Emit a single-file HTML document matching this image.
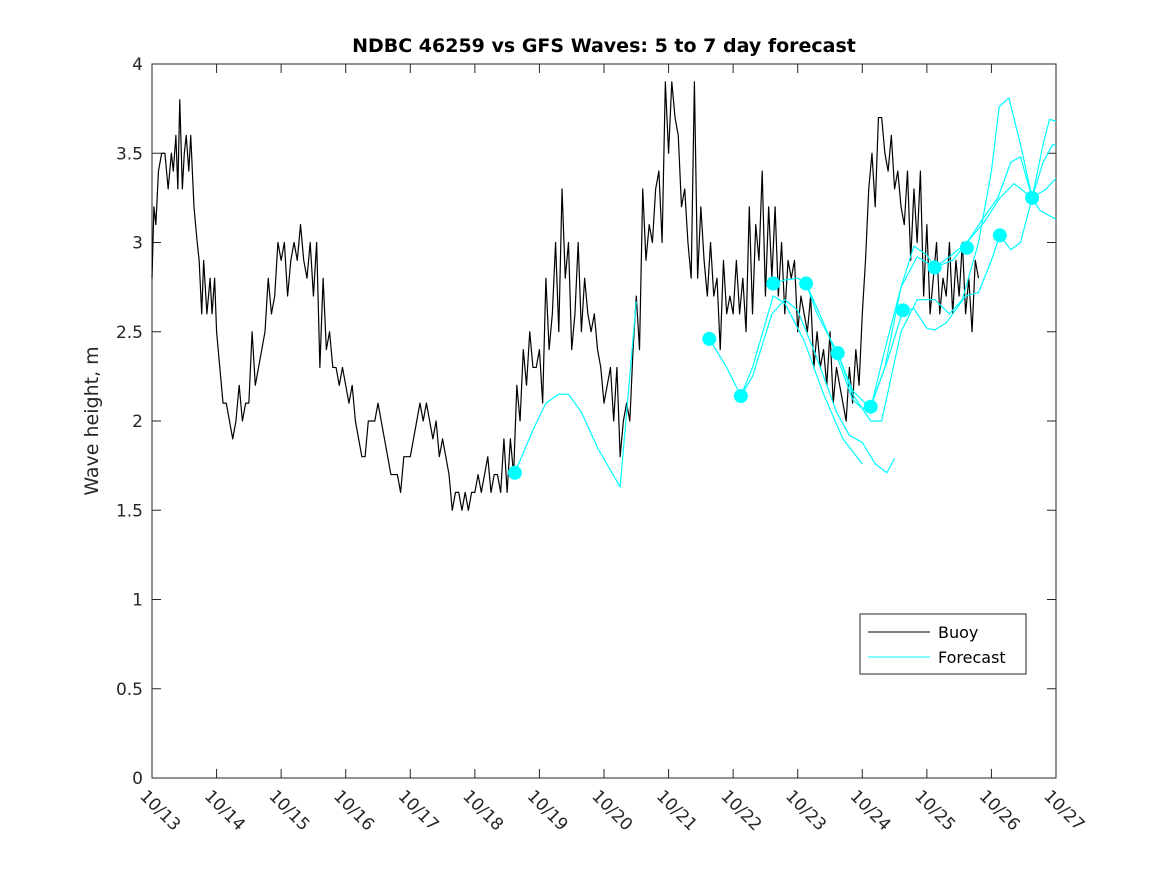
<!DOCTYPE html>
<html><head><meta charset="utf-8"><style>
body{margin:0;background:#fff;}
svg{font-family:"DejaVu Sans","Liberation Sans",sans-serif;}
</style></head><body>
<svg id="chart" width="1167" height="875" viewBox="0 0 1167 875" xmlns="http://www.w3.org/2000/svg">
<rect width="1167" height="875" fill="#fff"/>
<text x="604" y="52" text-anchor="middle" font-size="19" font-weight="bold" fill="#000">NDBC 46259 vs GFS Waves: 5 to 7 day forecast</text>
<text transform="translate(98,421) rotate(-90)" text-anchor="middle" font-size="19" fill="#262626">Wave height, m</text>
<g id="axes"></g>
<g id="series"></g>
<g>
<rect x="860" y="614" width="166" height="60" fill="#fff" stroke="#262626" stroke-width="1"/>
<line x1="868" y1="632" x2="930" y2="632" stroke="#000" stroke-width="1"/>
<text x="938" y="638" font-size="16" fill="#000">Buoy</text>
<line x1="868" y1="657" x2="930" y2="657" stroke="#00ffff" stroke-width="1"/>
<text x="938" y="663" font-size="16" fill="#000">Forecast</text>
</g>
</svg>
<script>
const xTickLabels=["10/13","10/14","10/15","10/16","10/17","10/18","10/19","10/20","10/21","10/22","10/23","10/24","10/25","10/26","10/27"];
const yTicks=[0,0.5,1,1.5,2,2.5,3,3.5,4];
const yTickLabels=["0","0.5","1","1.5","2","2.5","3","3.5","4"];
const buoyT=[13.0,13.03,13.06,13.1,13.15,13.2,13.25,13.3,13.33,13.37,13.4,13.43,13.47,13.5,13.53,13.57,13.6,13.65,13.7,13.73,13.77,13.8,13.85,13.9,13.93,13.97,14.0,14.05,14.1,14.15,14.2,14.25,14.3,14.35,14.4,14.45,14.5,14.55,14.6,14.65,14.7,14.75,14.8,14.85,14.9,14.95,15.0,15.05,15.1,15.15,15.2,15.25,15.3,15.35,15.4,15.45,15.5,15.55,15.6,15.65,15.7,15.75,15.8,15.85,15.9,15.95,16.0,16.05,16.1,16.15,16.2,16.25,16.3,16.35,16.4,16.45,16.5,16.55,16.6,16.65,16.7,16.75,16.8,16.85,16.9,16.95,17.0,17.05,17.1,17.15,17.2,17.25,17.3,17.35,17.4,17.45,17.5,17.55,17.6,17.65,17.7,17.75,17.8,17.85,17.9,17.95,18.0,18.05,18.1,18.15,18.2,18.25,18.3,18.35,18.4,18.45,18.5,18.55,18.6,18.65,18.7,18.75,18.8,18.85,18.9,18.95,19.0,19.05,19.1,19.15,19.2,19.25,19.3,19.35,19.4,19.45,19.5,19.55,19.6,19.65,19.7,19.75,19.8,19.85,19.9,19.95,20.0,20.05,20.1,20.15,20.2,20.25,20.3,20.35,20.4,20.45,20.5,20.55,20.6,20.65,20.7,20.75,20.8,20.85,20.9,20.95,21.0,21.05,21.1,21.15,21.2,21.25,21.3,21.35,21.4,21.45,21.5,21.55,21.6,21.65,21.7,21.75,21.8,21.85,21.9,21.95,22.0,22.05,22.1,22.15,22.2,22.25,22.3,22.35,22.4,22.45,22.5,22.55,22.6,22.65,22.7,22.75,22.8,22.85,22.9,22.95,23.0,23.05,23.1,23.15,23.2,23.25,23.3,23.35,23.4,23.45,23.5,23.55,23.6,23.65,23.7,23.75,23.8,23.85,23.9,23.95,24.0,24.05,24.1,24.15,24.2,24.25,24.3,24.35,24.4,24.45,24.5,24.55,24.6,24.65,24.7,24.75,24.8,24.85,24.9,24.95,25.0,25.05,25.1,25.15,25.2,25.25,25.3,25.35,25.4,25.45,25.5,25.55,25.6,25.65,25.7,25.75,25.8,25.85,25.9,25.95,26.0,26.05,26.1,26.15,26.2,26.25,26.3,26.33];
const buoyV=[2.8,3.2,3.1,3.4,3.5,3.5,3.3,3.5,3.4,3.6,3.3,3.8,3.3,3.5,3.6,3.4,3.6,3.2,3.0,2.9,2.6,2.9,2.6,2.8,2.6,2.8,2.5,2.3,2.1,2.1,2.0,1.9,2.0,2.2,2.0,2.1,2.1,2.5,2.2,2.3,2.4,2.5,2.8,2.6,2.7,3.0,2.9,3.0,2.7,2.9,3.0,2.9,3.1,2.9,2.8,3.0,2.7,3.0,2.3,2.8,2.4,2.5,2.3,2.3,2.2,2.3,2.2,2.1,2.2,2.0,1.9,1.8,1.8,2.0,2.0,2.0,2.1,2.0,1.9,1.8,1.7,1.7,1.7,1.6,1.8,1.8,1.8,1.9,2.0,2.1,2.0,2.1,2.0,1.9,2.0,1.8,1.9,1.8,1.7,1.5,1.6,1.6,1.5,1.6,1.5,1.6,1.6,1.7,1.6,1.7,1.8,1.6,1.7,1.7,1.6,1.9,1.6,1.9,1.7,2.2,2.0,2.4,2.2,2.5,2.3,2.3,2.4,2.1,2.8,2.4,2.6,3.0,2.5,3.3,2.8,3.0,2.4,2.6,3.0,2.5,2.8,2.6,2.5,2.6,2.4,2.3,2.1,2.2,2.3,2.0,2.3,1.8,2.0,2.1,2.0,2.4,2.7,2.4,3.3,2.9,3.1,3.0,3.3,3.4,3.0,3.9,3.5,3.9,3.7,3.6,3.2,3.3,3.0,2.8,3.9,2.8,3.2,2.9,2.7,3.0,2.7,2.8,2.4,2.9,2.6,2.7,2.6,2.9,2.6,2.8,2.5,3.2,2.6,3.1,2.9,3.4,2.7,3.2,2.8,3.2,2.7,3.0,2.6,2.9,2.8,2.9,2.5,2.7,2.6,2.5,2.7,2.3,2.5,2.3,2.4,2.2,2.5,2.1,2.3,2.2,2.1,2.0,2.3,2.1,2.4,2.2,2.6,2.9,3.3,3.5,3.2,3.7,3.7,3.5,3.4,3.6,3.3,3.4,3.2,3.1,3.4,2.9,3.3,3.0,3.4,2.7,3.1,2.6,2.8,3.0,2.6,2.8,2.7,3.0,2.6,2.9,2.7,3.0,2.6,2.8,2.5,2.9,2.8];
const fcA_t=[18.62,18.9,19.1,19.3,19.45,19.65,19.9,20.25,20.5];
const fcA_v=[1.71,1.95,2.1,2.15,2.15,2.05,1.85,1.63,2.67];
const fcB_t=[21.63,21.9,22.12,22.3,22.6,22.8,23.0,23.3,23.6,23.8,24.0,24.2,24.38,24.5];
const fcB_v=[2.46,2.3,2.14,2.25,2.6,2.68,2.62,2.35,2.05,1.92,1.88,1.76,1.71,1.79];
const fcC_t=[22.12,22.3,22.62,22.8,23.1,23.4,23.7,24.0];
const fcC_v=[2.14,2.3,2.7,2.66,2.45,2.15,1.9,1.76];
const fcD_t=[22.62,22.8,23.0,23.13,23.4,23.62,23.85,24.0,24.13,24.35,24.6,24.85,25.12,25.4,25.62,25.9,26.13,26.35,26.63,26.75,27.0];
const fcD_v=[2.77,2.79,2.8,2.77,2.55,2.35,2.12,2.07,2.08,2.3,2.75,2.92,2.86,2.9,3.0,3.12,3.25,3.33,3.25,3.18,3.13];
const fcE_t=[23.13,23.3,23.62,23.85,24.13,24.35,24.6,24.8,25.0,25.12,25.35,25.62,25.9,26.1,26.3,26.45,26.63,26.85,27.0];
const fcE_v=[2.77,2.6,2.38,2.17,2.07,2.4,2.75,2.98,2.93,2.86,2.92,3.0,3.15,3.25,3.45,3.48,3.25,3.3,3.36];
const fcF_t=[23.62,23.85,24.13,24.3,24.6,24.85,25.12,25.35,25.55,25.8,26.0,26.12,26.27,26.45,26.63,26.8,26.95,27.0];
const fcF_v=[2.38,2.15,2.0,2.0,2.5,2.68,2.68,2.6,2.68,3.0,3.4,3.76,3.81,3.55,3.25,3.45,3.55,3.54];
const fcG_t=[24.13,24.4,24.63,24.8,25.0,25.12,25.3,25.6,25.8,26.0,26.13,26.3,26.45,26.63,26.8,26.9,27.0];
const fcG_v=[2.08,2.35,2.62,2.63,2.52,2.51,2.55,2.7,2.72,2.9,3.04,2.96,3.0,3.25,3.55,3.69,3.68];
const markT=[18.62,21.63,22.12,22.62,23.13,23.62,24.13,24.63,25.12,25.62,26.13,26.63];
const markV=[1.71,2.46,2.14,2.77,2.77,2.38,2.08,2.62,2.86,2.97,3.04,3.25];

const X0=152,X1=1056,Y0=778,Y1=64;
const xs=d=>X0+(d-13)*(X1-X0)/14;
const ys=v=>Y0-v*(Y0-Y1)/4;
const NS="http://www.w3.org/2000/svg";
const axes=document.getElementById('axes'),ser=document.getElementById('series');
function mk(tag,attrs,parent){const e=document.createElementNS(NS,tag);for(const k in attrs)e.setAttribute(k,attrs[k]);parent.appendChild(e);return e;}
const frame=mk('rect',{x:X0,y:Y1,width:X1-X0,height:Y0-Y1,fill:'none',stroke:'#262626','stroke-width':1},axes);


xTickLabels.forEach((lab,i)=>{
  const x=xs(13+i);
  const t1=mk('line',{x1:x,y1:Y0,x2:x,y2:Y0-9,stroke:'#262626'},axes);
  
  
  const t2=mk('line',{x1:x,y1:Y1,x2:x,y2:Y1+9,stroke:'#262626'},axes);
  
  
  const tx=mk('text',{transform:`translate(${x-13},${Y0+19}) rotate(45)`,'font-size':17,fill:'#262626'},axes);
  tx.textContent=lab;
  
  
});
yTicks.forEach((v,i)=>{
  const y=ys(v);
  const t1=mk('line',{x1:X0,y1:y,x2:X0+9,y2:y,stroke:'#262626'},axes);
  
  
  const t2=mk('line',{x1:X1,y1:y,x2:X1-9,y2:y,stroke:'#262626'},axes);
  
  
  const tx=mk('text',{x:X0-9,y:y+6,'text-anchor':'end','font-size':17,fill:'#262626'},axes);
  tx.textContent=yTickLabels[i];
  
  
});
function line(T,V,color,name){
  const p=mk('polyline',{points:T.map((t,i)=>xs(t)+','+ys(V[i])).join(' '),fill:'none',stroke:color,'stroke-width':1.2,'stroke-linejoin':'round'},ser);
  
  
}
line(buoyT,buoyV,'#000','buoy-line');
[[fcA_t,fcA_v],[fcB_t,fcB_v],[fcC_t,fcC_v],[fcD_t,fcD_v],[fcE_t,fcE_v],[fcF_t,fcF_v],[fcG_t,fcG_v]].forEach((s,i)=>line(s[0],s[1],'#00ffff','forecast-line-'+(i+1)));
markT.forEach((t,i)=>{
  const c=mk('circle',{cx:xs(t),cy:ys(markV[i]),r:7,fill:'#00ffff'},ser);
  
  
});
</script>
</body></html>
